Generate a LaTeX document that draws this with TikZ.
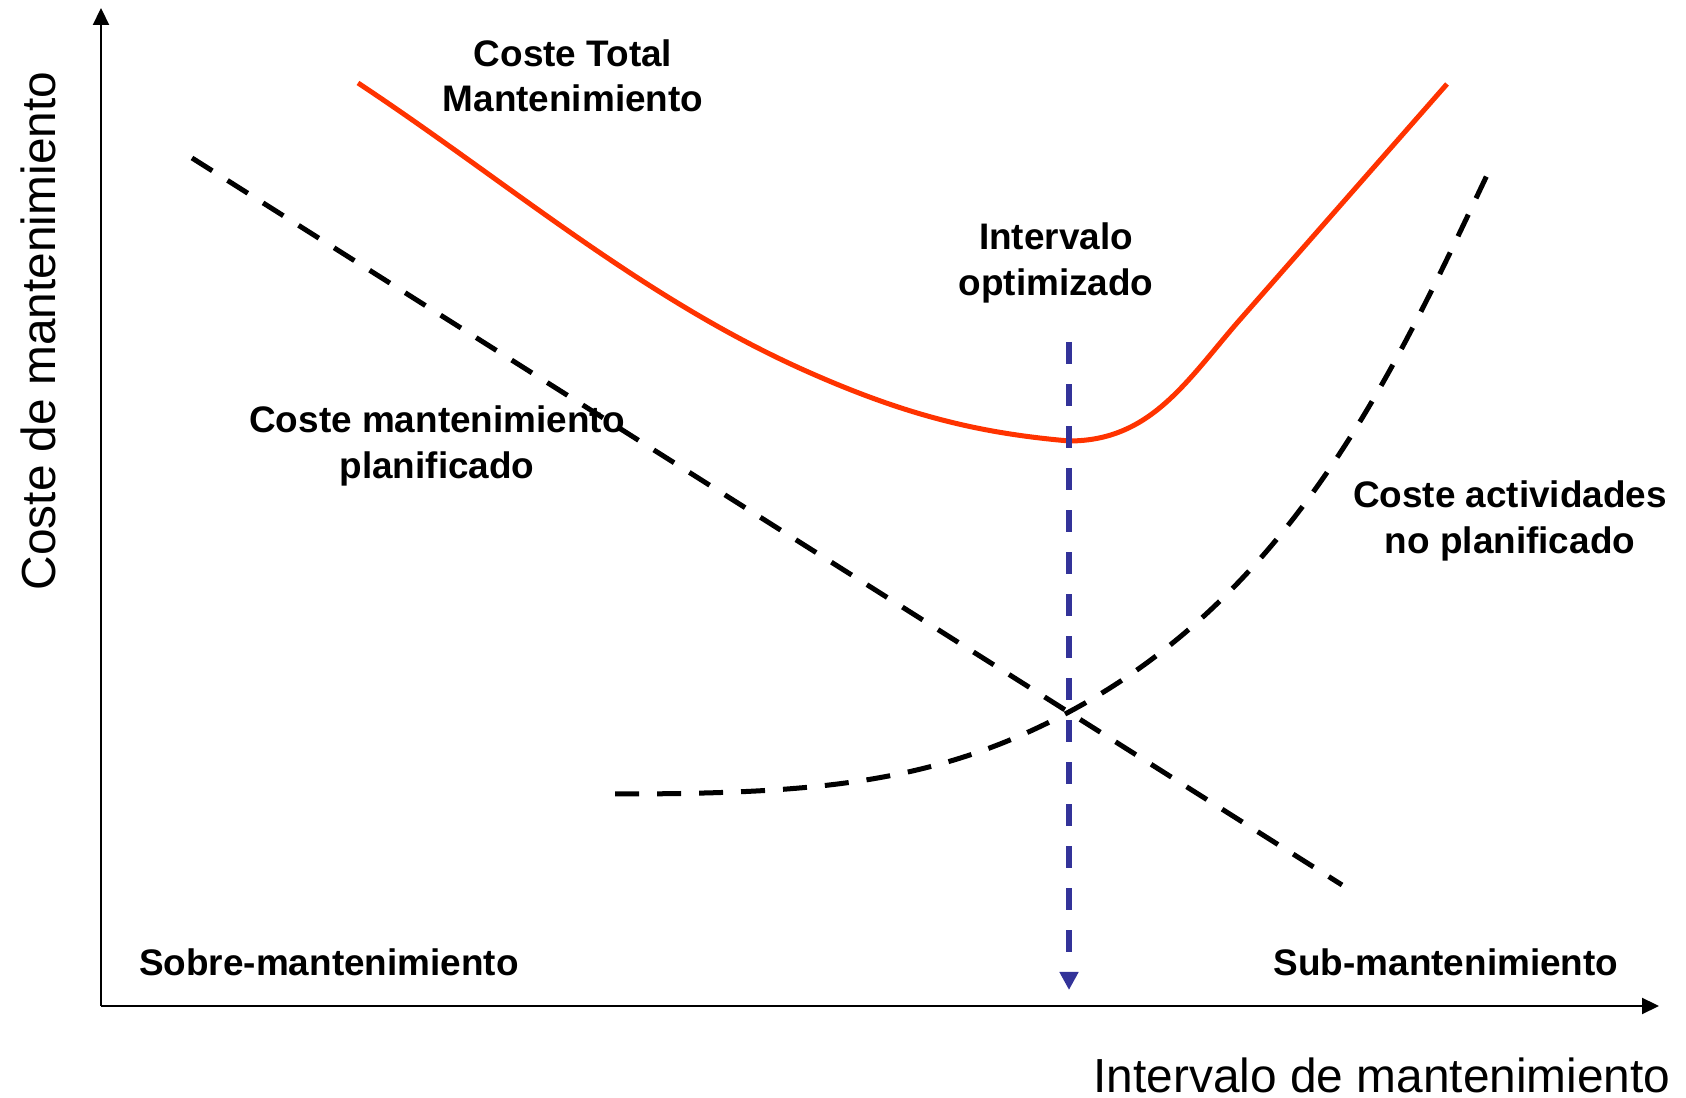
\documentclass[tikz,border=0pt]{standalone}
\usepackage{fontspec}
\setmainfont{Liberation Sans}
\usetikzlibrary{arrows.meta}
\definecolor{totalred}{RGB}{255,51,0}
\definecolor{optblue}{RGB}{51,51,153}
\tikzset{
  lbl/.style={font=\fontsize{10.5}{12.9}\selectfont\bfseries,align=center,inner sep=0pt},
  axlbl/.style={font=\fontsize{13.6}{16}\selectfont,inner sep=0pt},
  costdash/.style={line width=0.05cm,dash pattern=on 0.24cm off 0.18cm},
  axline/.style={line width=0.02cm,-{Triangle[width=0.16cm,length=0.17cm]}},
}
\begin{document}
\begin{tikzpicture}[x=0.01cm,y=0.01cm,line join=round]
\useasboundingbox (0,0) rectangle (1686,1098);
\coordinate (O) at (101,92);
\coordinate (ytip) at (101,1090);
\coordinate (xtip) at (1659,92);
\draw[axline] (O)--(ytip);
\draw[axline] (O)--(xtip);
% curve points
\coordinate (tc0) at (358,1015);
\coordinate (tc1) at (806,727);
\coordinate (tcmin) at (1069,657);
\coordinate (tc3) at (1237,775);
\coordinate (tc4) at (1447,1014);
\coordinate (pl0) at (192,940);
\coordinate (pl1) at (1342,213);
\coordinate (un0) at (615,304);
\coordinate (unx) at (1067,385);
\coordinate (un2) at (1488,925);
\coordinate (opt0) at (1069,756);
\coordinate (opt1) at (1069,108);
\draw[costdash] (pl0)--(pl1);
\draw[costdash] (un0)..controls +(0:200) and +(208:150)..(unx)
  ..controls +(28:260) and +(244.6:210)..(un2);
\draw[totalred,line width=0.05cm]
  (tc0)..controls +(-33.5:180) and +(156:180)..(tc1)
  ..controls +(-24:110) and +(175:90)..(tcmin)
  ..controls +(0:80) and +(229.3:80)..(tc3)--(tc4);
\draw[optblue,line width=0.065cm,dash pattern=on 0.22cm off 0.2cm,
  -{Triangle[width=0.18cm,length=0.18cm]}] (opt0)--(opt1);
\node[lbl] (total) at (573,1022) {Coste Total\\Mantenimiento};
\node[lbl] (optim) at (1056,835) {Intervalo\\optimizado};
\node[lbl] (plan) at (437,652) {Coste mantenimiento\\planificado};
\node[lbl] (noplan) at (1510,577) {Coste actividades\\no planificado};
\node[lbl] (sobre) at (329,136) {Sobre-mantenimiento};
\node[lbl] (sub) at (1446,136) {Sub-mantenimiento};
\node[axlbl] (xlab) at (1382,23) {Intervalo de mantenimiento};
\node[axlbl,rotate=90] (ylab) at (38,767) {Coste de mantenimiento};
\end{tikzpicture}
\end{document}
